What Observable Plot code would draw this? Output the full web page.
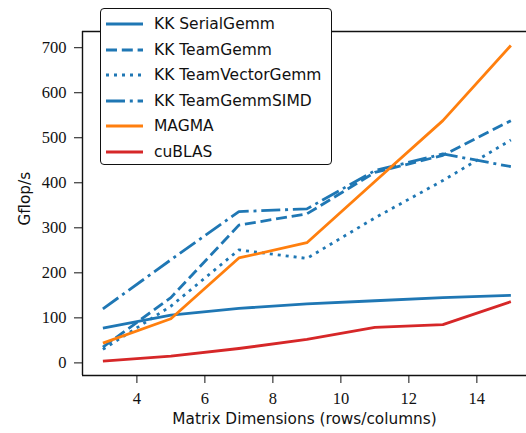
<!DOCTYPE html>
<html>
<head>
<meta charset="utf-8">
<script src="https://cdn.jsdelivr.net/npm/d3@7"></script>
<script src="https://cdn.jsdelivr.net/npm/@observablehq/plot@0.6"></script>
<style>
  body { margin: 0; background: #fff; }
  #wrap { position: relative; width: 526px; height: 433px; overflow: hidden; color: #111; }
  #legend { position: absolute; left: 100px; top: 8px; width: 232px; height: 157px;
    border: 1.4px solid #111; border-radius: 4px; background: #fff; box-sizing: border-box;
    font-family: "DejaVu Sans", sans-serif; font-size: 15.5px; color: #111; }
  .row { position: absolute; left: 5px; height: 20px; display: flex; align-items: center; }
  .row svg { width: 38px; height: 10px; margin-right: 10px; }
</style>
</head>
<body>
<div id="wrap"><div id="legend"></div></div>
<script>
const dims = [3, 5, 7, 9, 11, 13, 15];
const serialGemm = [77, 106, 121, 131, 138, 145, 150];
const teamGemm = [35, 145, 306, 331, 423, 461, 538];
const teamVectorGemm = [30, 126, 251, 232, 322, 405, 495];
const teamGemmSIMD = [120, 229, 336, 342, 427, 464, 436];
const magma = [44, 98, 233, 267, 403, 538, 705];
const cublas = [4, 15, 32, 52, 79, 85, 136];
const seriesNames = ["KK SerialGemm", "KK TeamGemm", "KK TeamVectorGemm", "KK TeamGemmSIMD", "MAGMA", "cuBLAS"];
const seriesValues = [serialGemm, teamGemm, teamVectorGemm, teamGemmSIMD, magma, cublas];
const xTicks = [4, 6, 8, 10, 12, 14];
const yTicks = [0, 100, 200, 300, 400, 500, 600, 700];

const styles = {
  "KK SerialGemm": {stroke: "#1f77b4", dash: null},
  "KK TeamGemm": {stroke: "#1f77b4", dash: "11,4.8"},
  "KK TeamVectorGemm": {stroke: "#1f77b4", dash: "3,5"},
  "KK TeamGemmSIMD": {stroke: "#1f77b4", dash: "19,4.8,3,4.8"},
  "MAGMA": {stroke: "#ff7f0e", dash: null},
  "cuBLAS": {stroke: "#d62728", dash: null}
};

const lineMarks = seriesNames.map((name, i) => {
  const data = dims.map((d, j) => ({x: d, y: seriesValues[i][j]}));
  return Plot.line(data, {x: "x", y: "y", stroke: styles[name].stroke, strokeWidth: 2.8,
    strokeDasharray: styles[name].dash, strokeLinecap: "butt", strokeLinejoin: "round"});
});

const chart = Plot.plot({
  width: 526, height: 433,
  marginLeft: 82, marginRight: 0, marginTop: 31, marginBottom: 58,
  x: {domain: [2.4, 15.46]},
  y: {domain: [-28, 736]},
  marks: [
    ...lineMarks,
    Plot.ruleX([2.4], {stroke: "#111", strokeWidth: 1.4}),
    Plot.ruleY([-28, 736], {stroke: "#111", strokeWidth: 1.4}),
    Plot.axisX(xTicks, {tickSize: 8, tickPadding: 9, fontSize: 16.5, label: null}),
    Plot.axisY(yTicks, {tickSize: 8, tickPadding: 8, fontSize: 16.5, label: null}),
    Plot.text(["Matrix Dimensions (rows/columns)"], {frameAnchor: "bottom", dy: 48, fontSize: 15.3}),
    Plot.text(["Gflop/s"], {frameAnchor: "left", dx: -57, dy: 22, rotate: -90, fontSize: 15.3})
  ]
});
chart.querySelectorAll("text").forEach(t => {
  const isTitle = t.textContent === "Gflop/s" || t.textContent.startsWith("Matrix");
  t.style.fontFamily = isTitle ? "'DejaVu Sans', sans-serif" : "'Liberation Serif', serif";
});
document.getElementById("wrap").prepend(chart);

const legend = document.getElementById("legend");
seriesNames.forEach((name, i) => {
  const row = document.createElement("div");
  row.className = "row";
  row.style.top = (5 + i * 25.6) + "px";
  const dash = styles[name].dash ? `stroke-dasharray="${styles[name].dash}"` : "";
  row.innerHTML = `<svg viewBox="0 0 38 10"><line x1="0" y1="5" x2="37" y2="5" stroke="${styles[name].stroke}" stroke-width="2.8" ${dash}/></svg><span>${name}</span>`;
  legend.appendChild(row);
});
</script>
</body>
</html>
